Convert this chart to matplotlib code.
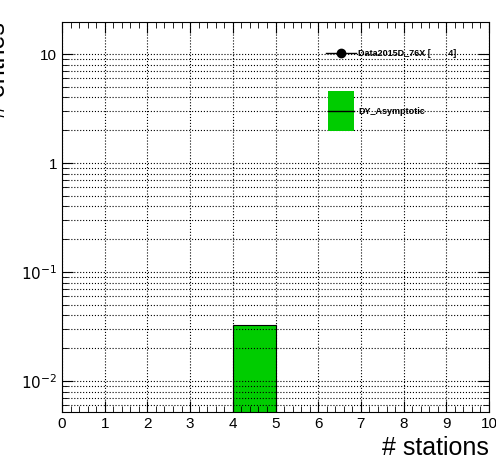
import matplotlib
matplotlib.use('Agg')
import matplotlib.pyplot as plt
from matplotlib.patches import Rectangle
from matplotlib.lines import Line2D

# ── Data ────────────────────────────────────────────────────────────────
bin_edges = [4, 5]
mc_values = [0.0327]
data_label = 'Data2015D_76X [       4]'
mc_label = 'DY_Asymptotic'

plt.rcParams['font.family'] = ['Liberation Sans', 'DejaVu Sans']

fig = plt.figure(figsize=(4.96, 4.72), dpi=100)
ax = fig.add_axes([62/496, 60/472, 427/496, 390/472])

ax.hist(bin_edges[:-1], bins=bin_edges, weights=mc_values,
        color='#00cc00', edgecolor='black', linewidth=0.8)

ax.set_yscale('log')
ax.set_xlim(0, 10)
ax.set_ylim(0.0052, 19.7)
ax.set_xticks(range(11))
ax.set_xticks([i * 0.2 for i in range(51)], minor=True)
ax.grid(True, which='both', axis='y', color='black', linestyle=':', linewidth=0.8)
ax.grid(True, which='major', axis='x', color='black', linestyle=':', linewidth=0.8)
ax.tick_params(which='both', direction='in', top=True, right=True, labelsize=11)
ax.tick_params(which='major', length=8)
ax.tick_params(which='minor', length=4)
ax.set_yticks([0.01, 0.1, 1, 10])
ax.set_yticklabels(['$10^{-2}$', '$10^{-1}$', '1', '10'])

ax.set_xlabel('# stations', fontsize=18, loc='right')
ax.set_ylabel('# entries', fontsize=18, loc='top')
ax.yaxis.set_label_coords(-52/427, 1.0)

# ── Legend (drawn by hand, ROOT style) ──────────────────────────────────
def fx(px):
    return px / 496
def fy(py):
    return 1 - py / 472

fig.add_artist(Line2D([fx(326), fx(356)], [fy(53), fy(53)], color='black', lw=1))
fig.add_artist(Line2D([fx(341)], [fy(53)], marker='o', color='black', markersize=6))
fig.text(fx(358), fy(53), data_label, fontsize=6.5, fontweight='bold', va='center')
fig.add_artist(Rectangle((fx(328), fy(131)), fx(26), 40/472, facecolor='#00cc00',
                         edgecolor='none'))
fig.add_artist(Line2D([fx(328), fx(354)], [fy(111), fy(111)], color='black', lw=1))
fig.text(fx(358), fy(111), mc_label, fontsize=6.5, fontweight='bold', va='center')

plt.savefig('out.png', dpi=100)
